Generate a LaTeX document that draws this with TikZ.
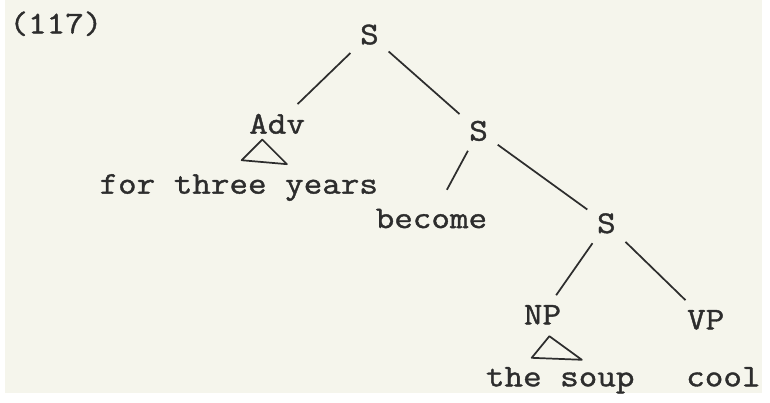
\documentclass[tikz,border=0pt]{standalone}
\usepackage{fontspec}
\setmonofont{Latin Modern Mono}[FakeBold=1.2, FakeStretch=1.14]
\definecolor{paper}{RGB}{245,245,236}
\definecolor{ink}{RGB}{45,45,45}

\begin{document}
\begin{tikzpicture}[
	every node/.style = {font=\fontsize{18.3}{22}\selectfont\ttfamily, text=ink, inner sep=5.5pt},
	branch/.style = {draw=ink, line width=1pt},
	roof/.style = {draw=ink, line width=1pt, line join=round}]
	\fill[paper] (0,0) rectangle (15.4,8);
	\node[anchor=base] (ex) at (1.04, 7.32) {(117)};
	% upper part
	\node[anchor=base] (S1) at (7.42, 7.10) {S};
	\node[anchor=base] (Adv) at (5.54, 5.28) {Adv};
	\node[anchor=base] (years) at (4.76, 4.06) {for three years};
	\node[anchor=base] (S2) at (9.64, 5.14) {S};
	\node[anchor=base] (become) at (8.68, 3.36) {become};
	% lower part
	\node[anchor=base] (S3) at (12.24, 3.26) {S};
	\node[anchor=base] (NP) at (10.94, 1.40) {NP};
	\node[anchor=base] (soup) at (11.30, 0.14) {the soup};
	\node[anchor=base] (VP) at (14.26, 1.30) {VP};
	\node[anchor=base] (cool) at (14.62, 0.14) {cool};
	\draw[branch] (S1)--(Adv);
	\draw[branch] (S1)--(S2);
	\draw[branch, shorten >=6pt] (S2)--(become);
	\draw[branch] (S2)--(S3);
	\draw[branch] (S3)--(NP);
	\draw[branch] (S3)--(VP);
	% roofs
	\draw[roof] (5.24, 5.16) -- (4.82, 4.74) -- (5.74, 4.66) -- cycle;
	\draw[roof] (11.08, 1.16) -- (10.72, 0.72) -- (11.74, 0.68) -- cycle;
\end{tikzpicture}
\end{document}
